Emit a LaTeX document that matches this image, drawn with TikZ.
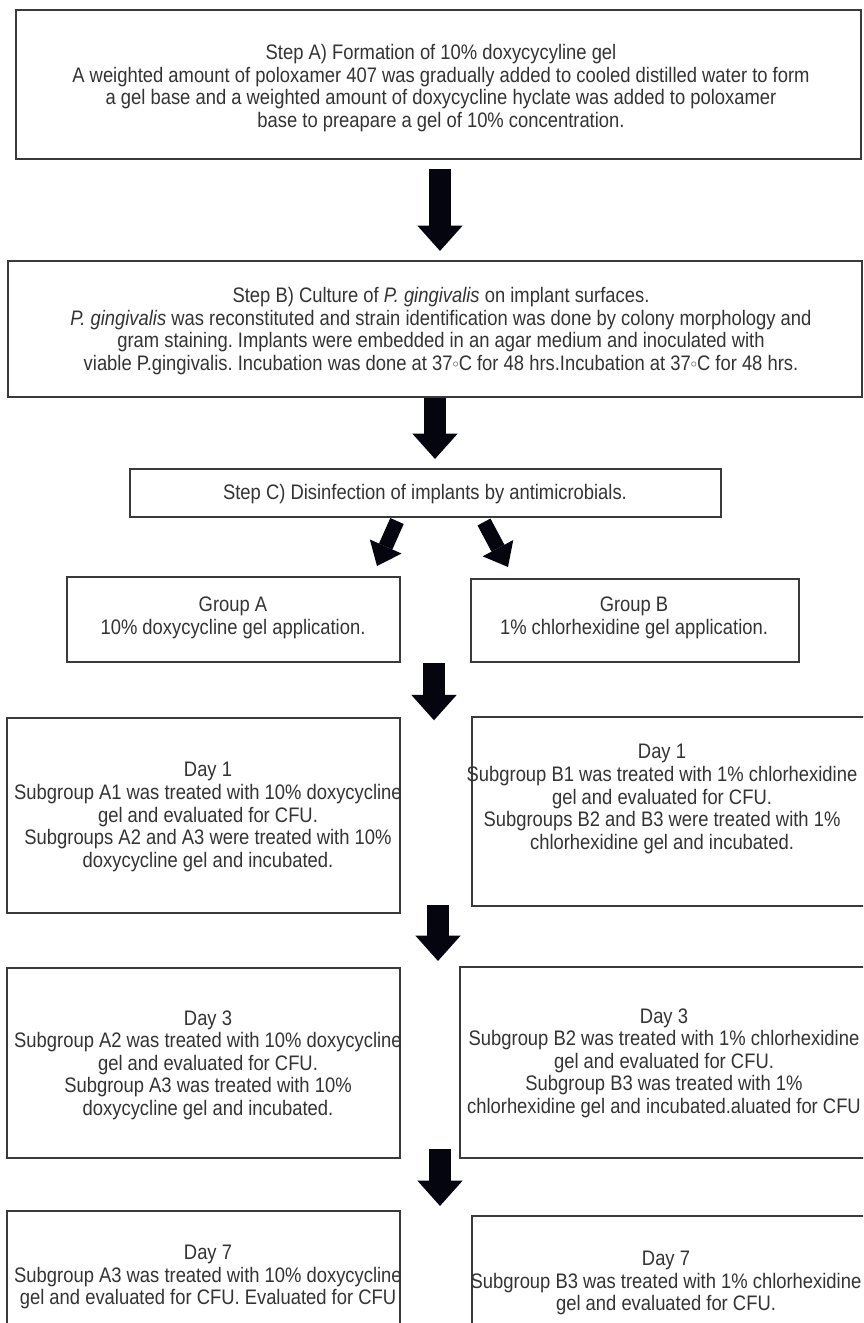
\documentclass[tikz,border=0pt]{standalone}
\usepackage{fontspec}
\setmainfont{Liberation Sans}[FakeStretch=0.876]
\usetikzlibrary{arrows.meta,fit}
\definecolor{txtc}{HTML}{333333}
\definecolor{boxc}{HTML}{3A3A3A}
\definecolor{arrc}{HTML}{05050F}
\newcommand{\degsym}{\raisebox{1.8pt}{\fontsize{9pt}{9pt}\selectfont$\circ$}}
\frenchspacing
\begin{document}
\begin{tikzpicture}[x=0.75pt,y=-0.75pt,
  box/.style={draw=boxc, line width=1.6pt, inner sep=0pt},
  txt/.style={align=center, text=txtc, inner sep=0pt, font=\fontsize{15.75pt}{16.9pt}\selectfont},
  bigarrow/.style={draw=arrc, line width=16.5pt, -{Triangle[length=19pt,width=34pt,line width=0pt]}},
  smallarrow/.style={draw=arrc, line width=11pt, -{Triangle[length=16pt,width=26pt,line width=0pt]}}]
\useasboundingbox (0,0) rectangle (863,1323);
\clip (0,0) rectangle (863,1323);
% boxes
\node[box, fit={(16,10) (861,159)}] (A) {};
\node[box, fit={(8,261) (862,397)}] (B) {};
\node[box, fit={(130,469) (721,517)}] (C) {};
\node[box, fit={(67,577) (400,662)}] (GA) {};
\node[box, fit={(471,579) (799,662)}] (GB) {};
\node[box, fit={(7,718) (400,913)}] (D1A) {};
\node[box, fit={(472,717) (880,906)}] (D1B) {};
\node[box, fit={(7,968) (400,1158)}] (D3A) {};
\node[box, fit={(460,967) (880,1158)}] (D3B) {};
\node[box, fit={(7,1211) (400,1345)}] (D7A) {};
\node[box, fit={(472,1216) (880,1345)}] (D7B) {};
% texts
\node[txt] (tA) at (441,88) {Step A) Formation of 10\% doxycycyline gel\\A weighted amount of poloxamer 407 was gradually added to cooled distilled water to form\\a gel base and a weighted amount of doxycycline hyclate was added to poloxamer\\base to preapare a gel of 10\% concentration.};
\node[txt] (tB) at (441,331) {Step B) Culture of \textit{P. gingivalis} on implant surfaces.\\\textit{P. gingivalis} was reconstituted and strain identification was done by colony morphology and\\gram staining. Implants were embedded in an agar medium and inoculated with\\viable P.gingivalis. Incubation was done at 37\degsym C for 48 hrs.Incubation at 37\degsym C for 48 hrs.};
\node[txt] (tC) at (425,494) {Step C) Disinfection of implants by antimicrobials.};
\node[txt] (tGA) at (233,618) {Group A\\10\% doxycycline gel application.};
\node[txt] (tGB) at (634,618) {Group B\\1\% chlorhexidine gel application.};
\node[txt] (tD1A) at (208,817) {Day 1\\Subgroup A1 was treated with 10\% doxycycline\\gel and evaluated for CFU.\\Subgroups A2 and A3 were treated with 10\%\\doxycycline gel and incubated.};
\node[txt] (tD1B) at (662,799) {Day 1\\Subgroup B1 was treated with 1\% chlorhexidine\\gel and evaluated for CFU.\\Subgroups B2 and B3 were treated with 1\%\\chlorhexidine gel and incubated.};
\node[txt] (tD3A) at (208,1065) {Day 3\\Subgroup A2 was treated with 10\% doxycycline\\gel and evaluated for CFU.\\Subgroup A3 was treated with 10\%\\doxycycline gel and incubated.};
\node[txt] (tD3B) at (664,1063) {Day 3\\Subgroup B2 was treated with 1\% chlorhexidine\\gel and evaluated for CFU.\\Subgroup B3 was treated with 1\%\\chlorhexidine gel and incubated.aluated for CFU};
\node[txt] (tD7A) at (208,1277) {Day 7\\Subgroup A3 was treated with 10\% doxycycline\\gel and evaluated for CFU. Evaluated for CFU};
\node[txt] (tD7B) at (666,1283) {Day 7\\Subgroup B3 was treated with 1\% chlorhexidine\\gel and evaluated for CFU.};
% arrow axes
\coordinate (x1) at (440,0);
\coordinate (x2) at (435,0);
\coordinate (x3) at (434,0);
\coordinate (x4) at (438,0);
\coordinate (x5) at (440,0);
\coordinate (dl1) at (397,521);
\coordinate (dl2) at (377,566);
\coordinate (dr1) at (484,522);
\coordinate (dr2) at (508,567);
% arrows
\draw[bigarrow, shorten <=6.75pt, shorten >=6.75pt] (A.south -| x1) -- (B.north -| x1);
\draw[bigarrow, shorten >=6.75pt] (B.south -| x2) -- (C.north -| x2);
\draw[smallarrow] (dl1) -- (dl2);
\draw[smallarrow] (dr1) -- (dr2);
\draw[bigarrow, shorten >=-2.5pt] (GA.south -| x3) -- (D1A.north -| x3);
\draw[bigarrow, shorten <=-6.75pt, shorten >=4.5pt] (D1A.south -| x4) -- (D3A.north -| x4);
\draw[bigarrow, shorten <=-7.5pt, shorten >=3pt] (D3A.south -| x5) -- (D7A.north -| x5);
\end{tikzpicture}
\end{document}
